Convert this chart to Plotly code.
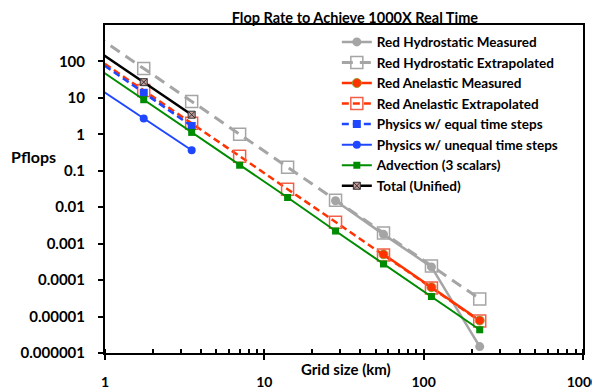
import plotly.graph_objects as go

# Grid sizes (km)
grid_all = [0.875, 1.75, 3.5, 7, 14, 28, 56, 112, 225]
grid_meas_h = [28, 56, 112, 225]
grid_meas_a = [56, 112, 225]
grid_phys = [0.875, 1.75, 3.5]

# Pflops
hydro_meas = [0.015, 0.0018, 0.00023, 0.0000015]
hydro_extrap = [512, 64, 8, 1, 0.125, 0.0156, 0.00195, 0.000244, 0.0000305]
anel_meas = [0.00051, 0.000064, 0.0000078]
anel_extrap = [128, 16, 2, 0.25, 0.031, 0.0039, 0.00049, 0.000061, 0.0000076]
phys_equal = [113, 13.8, 1.69]
phys_unequal = [20.6, 2.74, 0.365]
advection = [70, 8.9, 1.13, 0.142, 0.0185, 0.00222, 0.000277, 0.0000354, 0.00000434]
total = [211, 27, 3.46]

y_tickvals = [1e-6, 1e-5, 1e-4, 1e-3, 1e-2, 1e-1, 1, 10, 100]
y_ticktext = ["0.000001", "0.00001", "0.0001", "0.001", "0.01", "0.1", "1", "10", "100"]
x_tickvals = [1, 10, 100, 1000]
x_ticktext = ["1", "10", "100", "1000"]

GRAY = "#a5a5a5"
RED = "#ff3300"
BLUE = "#1f47ff"
GREEN = "#008c00"

fig = go.Figure()
fig.add_trace(go.Scatter(x=grid_meas_h, y=hydro_meas, name="Red Hydrostatic Measured",
                         mode="lines+markers", line=dict(color=GRAY, width=2.5),
                         marker=dict(symbol="circle", size=9, color=GRAY)))
fig.add_trace(go.Scatter(x=grid_all, y=hydro_extrap, name="Red Hydrostatic Extrapolated",
                         mode="lines+markers", line=dict(color=GRAY, width=3, dash="11px,7px"),
                         marker=dict(symbol="square-open", size=12, color=GRAY, line=dict(width=1.5))))
fig.add_trace(go.Scatter(x=grid_meas_a, y=anel_meas, name="Red Anelastic Measured",
                         mode="lines+markers", line=dict(color=RED, width=2.5),
                         marker=dict(symbol="circle", size=9, color=RED, line=dict(color="#9a9a30", width=1))))
fig.add_trace(go.Scatter(x=grid_all, y=anel_extrap, name="Red Anelastic Extrapolated",
                         mode="lines+markers", line=dict(color=RED, width=2.5, dash="7px,4px"),
                         marker=dict(symbol="square-open", size=12, color="#f2604a", line=dict(width=1.5))))
fig.add_trace(go.Scatter(x=grid_phys, y=phys_equal, name="Physics w/ equal time steps",
                         mode="lines+markers", line=dict(color=BLUE, width=2.5, dash="7px,4px"),
                         marker=dict(symbol="square", size=8, color=BLUE)))
fig.add_trace(go.Scatter(x=grid_phys, y=phys_unequal, name="Physics w/ unequal time steps",
                         mode="lines+markers", line=dict(color=BLUE, width=2),
                         marker=dict(symbol="circle", size=8, color=BLUE)))
fig.add_trace(go.Scatter(x=grid_all, y=advection, name="Advection (3 scalars)",
                         mode="lines+markers", line=dict(color=GREEN, width=2),
                         marker=dict(symbol="square", size=7, color=GREEN)))
fig.add_trace(go.Scatter(x=grid_phys, y=total, name="Total (Unified)",
                         mode="lines+markers", line=dict(color="black", width=2.5),
                         marker=dict(symbol="square-x", size=7, color="#c89a9a",
                                     line=dict(color="#333333", width=1))))

FONT = "Lato"
# The page body adds an 8px offset, so the figure is 8px smaller than the window.
fig.update_layout(
    width=592, height=384,
    margin=dict(l=97, r=17, t=17, b=39, autoexpand=False),
    paper_bgcolor="white", plot_bgcolor="white",
    font=dict(family=FONT, color="black", size=14),
    title=dict(text="<b>Flop Rate to Achieve 1000X Real Time</b>", x=0.586, xanchor="center",
               y=0.975, yanchor="middle", font=dict(family=FONT, size=14.5, color="black"),
               automargin=False),
    legend=dict(x=0.485, y=0.995, xanchor="left", yanchor="top", bgcolor="rgba(0,0,0,0)",
                font=dict(family=FONT, size=13.5, color="black", weight="bold"),
                tracegroupgap=0),
    showlegend=True,
)
fig.update_xaxes(type="log", range=[0, 3.0005], tickvals=x_tickvals, ticktext=x_ticktext,
                 automargin=False, ticklabeloverflow="allow",
                 showgrid=False, zeroline=False, showline=True, linecolor="black", linewidth=2,
                 mirror=True, ticks="outside", ticklen=5, tickwidth=1.5, tickcolor="black",
                 ticklabelstandoff=10,
                 tickfont=dict(family=FONT, size=14, weight="bold"),
                 minor=dict(ticks="inside", ticklen=4, tickwidth=1.5, tickcolor="black",
                            dtick="D1", showgrid=False))
fig.update_yaxes(type="log", range=[-6, 3], tickvals=y_tickvals, ticktext=y_ticktext,
                 automargin=False,
                 showgrid=False, zeroline=False, showline=True, linecolor="black", linewidth=2,
                 mirror=True, ticks="outside", ticklen=5, tickwidth=1.5, tickcolor="black",
                 ticklabelstandoff=10,
                 tickfont=dict(family=FONT, size=15, weight="bold"))
fig.add_annotation(text="<b>Pflops</b>", xref="paper", yref="paper", x=-0.150, y=0.598,
                   xanchor="center", yanchor="middle", showarrow=False,
                   font=dict(family=FONT, size=16, color="black"))
fig.add_annotation(text="<b>Grid size (km)</b>", xref="paper", yref="paper", x=0.504, y=-0.048,
                   xanchor="center", yanchor="middle", showarrow=False,
                   font=dict(family=FONT, size=15, color="black"))
fig.write_html("out.html")
